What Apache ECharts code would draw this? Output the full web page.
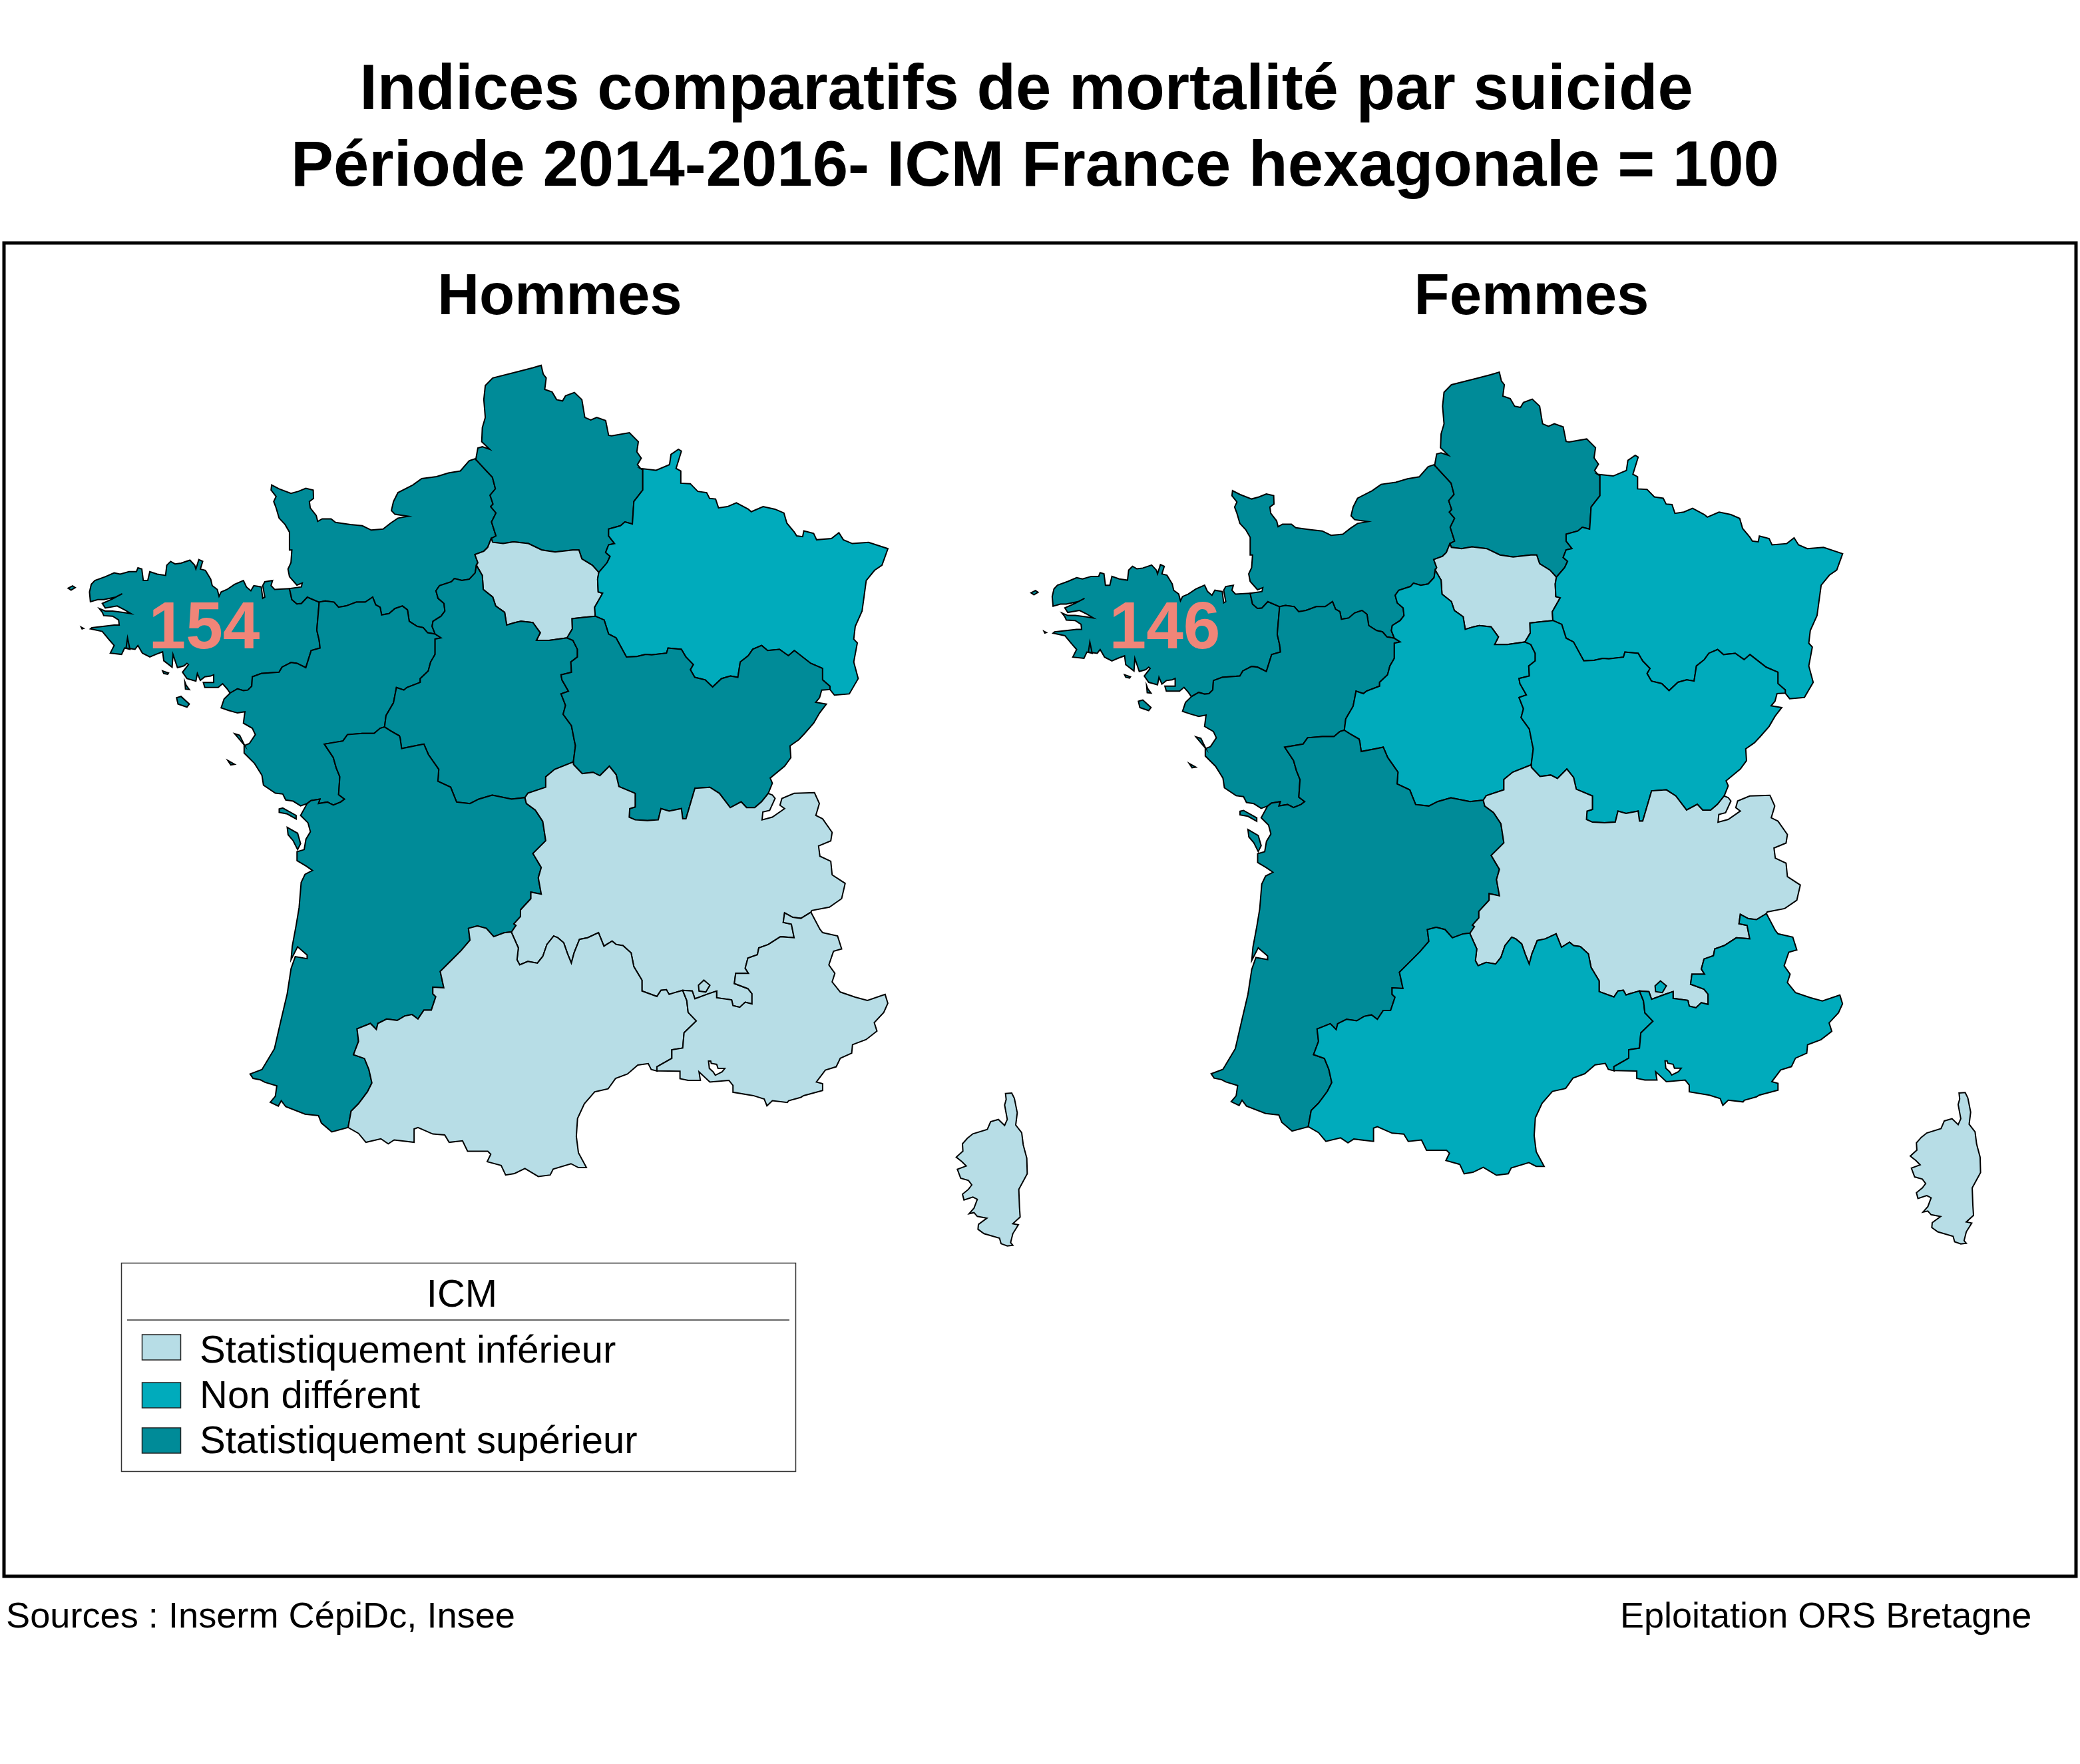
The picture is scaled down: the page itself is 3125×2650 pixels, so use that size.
<!DOCTYPE html>
<html><head><meta charset="utf-8">
<style>html,body{margin:0;padding:0;background:#fff}#c{width:3125px;height:2650px}</style>
<script src="https://cdn.jsdelivr.net/npm/echarts@6/dist/echarts.min.js"></script>
</head><body><div id="c"></div>
<script>
// ---- chart values ----
const titleLines = ["Indices comparatifs de mortalité par suicide", "Période 2014-2016- ICM France hexagonale = 100"];
const panelNames = ["Hommes", "Femmes"];
const bretagneValues = [154, 146];
const legendTitle = "ICM";
const legendLabels = ["Statistiquement inférieur", "Non différent", "Statistiquement supérieur"];
const classColors = ["#b7dde6", "#00abbc", "#008b98"];
const regionNames = ["Bretagne","Normandie","Hauts-de-France","Île-de-France","Grand Est","Pays de la Loire","Centre-Val de Loire","Bourgogne-Franche-Comté","Nouvelle-Aquitaine","Auvergne-Rhône-Alpes","Occitanie","Provence-Alpes-Côte d'Azur","Corse"];
const classesHommes = [2,2,2,0,1,2,2,2,2,0,0,0,0];
const classesFemmes = [2,2,2,0,1,2,1,1,2,0,1,1,0];
const sourceText = "Sources : Inserm CépiDc, Insee";
const creditText = "Eploitation ORS Bretagne";

// ---- base map geometry: traced outlines, each in its own tracing frame ----
const F1 = [80,520,2.24,2.613], F2 = [680,520,2.24,2.613], F3 = [340,1100,2.24,2.24], F4 = [740,1100,2.45,1.96], F5 = [1420,1630,3,3];
const arc = (f, a) => { const o = []; for (let i = 0; i < a.length; i += 2) o.push([f[0] + a[i] / f[2], -(f[1] + a[i + 1] / f[3])]); return o; };
const rev = a => a.slice().reverse();
const ring = (...arcs) => { const r = [].concat(...arcs); r.push(r[0]); return r; };

const bzCoast = arc(F1,[795,952,745,955,733,940,738,920,712,925,705,940,712,985,705,990,700,945,675,940,665,960,650,945,640,920,610,935,585,955,565,965,558,982,552,955,535,940,530,915,512,880,495,875,503,845,490,838,480,875,476,860,460,840,430,852,410,855,395,845,382,860,378,900,350,895,325,885,318,920,303,920,298,875,285,870,280,885,255,885,225,895,205,890,175,905,140,920,128,935,122,965,125,1003,150,995,170,995,210,985,232,972,200,992,165,1010,175,1028,215,1020,240,1035,262,1050,235,1045,200,1040,175,1040,155,1030,165,1045,170,1058,200,1060,220,1075,222,1095,205,1095,130,1105,125,1110,165,1120,190,1155,205,1175,192,1205,230,1210,240,1185,258,1190,250,1145,245,1185,275,1190,285,1175,300,1205,325,1220,345,1210,368,1200,372,1235,400,1260,403,1210,418,1262,440,1255,450,1245,455,1250,435,1280,450,1305,480,1315,485,1285,495,1312,510,1298,530,1295,540,1290,540,1320,505,1320,510,1340,555,1340,570,1325,585,1345,595,1362]);
const bzPdl = arc(F1,[595,1362,620,1345,640,1352,655,1350,668,1335,670,1298,700,1285,760,1280,770,1260,800,1242,820,1245,850,1262,868,1195,898,1185,895,1155,887,1115,895,1005]);
const bzNor = arc(F1,[895,1005,855,985,835,1010,820,1012,803,995,795,952]);
const norCoast = arc(F1,[795,952,835,945,838,930,820,938,795,905,790,875,800,850,803,800,795,800,795,730,780,700,760,675,750,635,742,610,750,590,733,565,735,545,760,560,800,578,825,570,850,558,875,565,876,598,862,610,865,635,885,665,890,688,905,678,935,678,950,692,1000,700,1040,705,1070,722,1110,718,1135,695,1160,675,1195,668,1150,660,1138,645,1145,610,1160,575,1210,545,1240,520,1290,512,1330,498,1370,490,1400,450,1420,442]);
const norHdf = arc(F1,[1420,442,1450,480,1478,515,1488,560,1470,585,1480,620,1472,630,1490,655,1475,690,1490,745,1474,755]);
const norIdf = arc(F2,[130,755,118,790,105,805,75,818,85,850,80,860]);
const norCvl = arc(F1,[1424,860,1420,890,1400,915,1375,920,1350,912,1340,925,1300,940,1288,960,1295,990,1315,1010,1318,1040,1305,1060,1278,1080,1275,1100,1285,1130]);
const norPdl = arc(F1,[1285,1130,1260,1125,1245,1105,1225,1100,1198,1080,1192,1035,1175,1020,1150,1030,1130,1050,1105,1055,1100,1025,1085,1015,1075,985,1050,1005,1020,1005,985,1020,960,1025,945,1005,915,1000,895,1005]);
const hdfCoast = arc(F2,[78,445,85,400,100,395,125,405,98,375,100,320,110,280,105,210,110,155,135,125,220,100,270,85,298,75,305,110,315,125,310,170,335,180,350,210,370,215,380,195,410,182,435,210,445,280,465,290,485,280,515,292,525,350,535,352,595,340,625,375,620,415,635,440,622,465,632,480]);
const hdfGes = arc(F2,[492,888,520,850,530,825,515,810,525,780,545,775,525,745,525,718,565,705,580,690,605,698,610,610,640,565,640,485,632,480]);
const idfHdf = arc(F2,[492,888,470,860,435,835,425,800,405,800,345,808,300,800,255,775,205,768,170,775,135,770,130,755]);
const idfCvl = arc(F2,[80,860,100,900,103,955,135,985,145,1020,175,1045,182,1095,210,1085,230,1080,270,1085,295,1125,282,1155,325,1155,385,1145]);
const idfBfc = arc(F2,[385,1145,403,1110,402,1070,440,1065,480,1060]);
const idfGes = arc(F2,[480,1060,478,1025,505,970,490,965,488,915,492,888]);
const gesOuter = arc(F2,[632,480,685,487,730,465,735,425,760,405,770,412,752,480,768,490,768,538,800,540,825,570,855,575,865,598,885,600,895,635,925,630,955,615,995,640,1005,650,1045,630,1085,640,1115,655,1125,695,1150,730,1158,745,1178,748,1182,725,1215,735,1225,760,1275,755,1300,732,1315,760,1345,775,1400,770,1465,795,1445,860,1420,880,1392,920,1385,980,1378,1040,1355,1100,1350,1150,1362,1165,1350,1240,1365,1305,1335,1365,1285,1370,1270,1348]);
const gesBfc = arc(F2,[480,1060,510,1075,525,1130,550,1145,585,1220,620,1218,650,1210,670,1212,720,1205,725,1185,770,1190,785,1220,810,1250,800,1270,815,1300,850,1310,875,1338,905,1305,935,1295,960,1300,968,1240,995,1215,1010,1190,1040,1175,1060,1195,1100,1190,1130,1215,1150,1195,1205,1245,1245,1265,1245,1310,1270,1335,1270,1348]);
const bfcOuter = [...arc(F2,[1270,1348,1242,1350,1235,1380,1222,1398,1258,1405,1235,1440,1215,1480,1185,1520,1165,1545]), ...arc(F4,[1095,40,1098,75,1075,100,1022,135,1030,150,1015,180])];
const bfcAra = arc(F4,[1015,180,990,205,965,222,935,222,915,205,875,222,835,180,800,162,745,165,712,255,700,255,695,225,650,232,620,225,610,258,570,260,525,258,503,250,505,225,525,220,525,180,465,160,455,125,430,100,395,128,370,118,330,122,298,95]);
const cvlBfc = [...arc(F2,[385,1145,405,1155,420,1190,420,1220,398,1240,400,1280,365,1290,368,1310,390,1355,365,1365,380,1410,372,1445,400,1490,410,1550]), ...arc(F3,[1175,45,1168,100])];
const cvlAra = arc(F3,[1168,100,1105,125,1075,150,1075,185,1015,205,1005,220]);
const cvlNaq = [...arc(F1,[1115,1495,1135,1510,1165,1530]), ...arc(F3,[585,20,590,55,640,45,665,40,680,75,715,125,712,165,755,185,775,235,820,240,850,225,895,212,960,225,1005,220])];
const pdlCvl = arc(F1,[1285,1130,1305,1145,1285,1150,1285,1210,1270,1240,1262,1275,1235,1305,1235,1320,1190,1340,1180,1350,1155,1340,1145,1400,1120,1450,1115,1495]);
const pdlCoast = [...arc(F1,[595,1362,575,1385,565,1420,590,1430,620,1440,645,1435,640,1480,670,1500,680,1525,660,1560]), ...arc(F3,[60,45,60,70,95,105,120,145,125,178,165,205,190,208,200,228,225,232,250,248,272,240])];
const pdlNaq = [...arc(F3,[272,240,285,230,315,225,310,240,340,235,360,245,385,235,398,225,378,210,382,150,370,120,360,85,330,40]), ...arc(F1,[975,1550,990,1525,1040,1520,1080,1520,1100,1500,1115,1495])];
const naqCoast = arc(F3,[272,240,250,280,275,305,283,335,268,360,262,395,238,402,238,432,268,450,290,465,265,478,252,505,245,590,235,650,222,720,218,765,240,722,272,750,272,762,232,755,218,795,205,880,185,965,162,1065,120,1135,80,1150,90,1165,115,1170,130,1178,170,1190,165,1225,148,1245,175,1258,185,1240,200,1260,265,1285,310,1290,320,1315,355,1345,410,1330]);
const naqOcc = arc(F3,[960,672,935,675,900,688,875,660,845,652,815,660,820,700,790,735,755,770,720,805,732,860,695,858,695,880,705,890,690,935,665,935,645,965,625,950,600,955,575,970,540,965,510,980,505,1000,485,980,440,998,445,1040,428,1085,465,1098,480,1135,490,1180,475,1210,445,1250,420,1275,410,1330]);
const naqAra = arc(F3,[960,672,975,650,968,645,990,620,990,598,1025,560,1025,538,1060,545,1050,490,1060,455,1032,408,1075,365,1065,300,1040,262,1010,240,1005,220]);
const araOuter = arc(F4,[1015,180,1030,185,1040,195,1020,230,995,235,992,258,1030,250,1075,225,1058,215,1065,195,1110,180,1185,178,1203,210,1190,245,1215,255,1250,295,1245,320,1200,335,1205,365,1245,380,1250,420,1298,445,1285,490,1240,515,1175,525,1172,530]);
const araPac = arc(F4,[1172,530,1135,548,1105,545,1075,532,1070,560,1100,565,1110,605,1060,602,1015,625,980,635,975,655,940,665,930,695,942,710,895,710,890,740,940,755,955,770,955,800,930,795,910,810,885,805,880,788,825,782,825,762,795,770,745,785,735,762,700,760]);
const araOcc = arc(F4,[700,760,665,768,650,772,640,758,620,760,605,778,550,762,550,730,520,690,510,650,480,628,455,625,440,615,410,630,390,590,350,605,320,610,300,650,290,680,275,650,262,620,240,605,225,600,200,625,185,660,165,680,130,675,100,685,90,670,95,635,70,590]);
const occCoast = arc(F3,[410,1330,445,1350,470,1380,520,1368,545,1385,565,1372,632,1380,632,1335,645,1330,695,1352,735,1355,750,1380,795,1375,812,1410,880,1410,890,1420,878,1445,925,1458,940,1490,970,1485,1005,1468,1050,1495,1090,1490,1100,1470,1160,1452,1185,1465,1212,1465,1185,1415,1178,1360,1182,1300,1205,1250,1240,1210,1285,1200,1310,1165,1350,1150,1385,1120,1420,1115,1430,1135,1450,1140]);
const occPac = arc(F4,[605,997,605,985,660,960,660,935,700,930,705,885,750,850,720,825,715,790,700,760]);
const pacCoast = arc(F4,[605,997,690,998,690,1020,720,1025,765,1025,760,1000,800,1030,870,1025,885,1040,885,1060,960,1070,1000,1080,1010,1100,1030,1085,1085,1090,1090,1085,1135,1075,1145,1070,1215,1055,1215,1035,1192,1030,1225,995,1265,985,1280,960,1322,945,1325,920,1375,905,1415,880,1405,855,1440,825,1455,798,1445,772,1380,790,1335,780,1280,765,1250,735,1260,710,1238,685,1255,645,1285,638,1270,600,1215,590,1205,580,1172,530]);
const berreLagoon = arc(F4,[795,968,803,968,805,975,825,978,830,990,855,990,845,1000,820,1010,812,1000,798,990]);
const valreasEnclave = arc(F4,[758,745,778,730,800,745,785,765,760,762]);
const corsicaOutline = arc(F5,[272,38,300,36,312,60,325,125,318,180,345,215,352,270,368,330,370,400,332,470,335,550,338,595,305,625,330,630,305,670,295,710,305,722,280,725,252,715,245,690,175,670,148,650,150,628,188,600,145,592,130,575,108,580,130,555,145,515,125,505,85,518,78,492,105,470,120,450,105,430,70,420,55,380,95,365,75,345,50,325,80,298,78,265,100,240,125,220,190,200,205,165,240,155,268,182,280,155,268,90,275,65]);
const ouessant = arc(F1,[50,950,65,941,74,948,60,958]);
const sein = arc(F1,[94,1103,102,1108,97,1110]);
const groix = arc(F1,[368,1275,388,1283,385,1288,372,1285]);
const belleIle = arc(F1,[415,1380,430,1375,458,1405,450,1417,420,1405]);
const quiberon = arc(F1,[443,1318,447,1330,458,1348,445,1346]);
const noirmoutier = arc(F3,[28,5,45,10,62,45,45,25]);
const yeu = arc(F3,[5,95,28,108,15,110]);
const re = arc(F3,[178,258,190,255,235,280,235,292,205,275,178,270]);
const oleron = arc(F3,[205,320,240,340,250,375,240,395,225,365,208,345]);

const regionPolygons = [
  [[ring(bzCoast,bzPdl,bzNor)],[ring(ouessant)],[ring(sein)],[ring(groix)],[ring(belleIle)],[ring(quiberon)]],
  [[ring(norCoast,norHdf,norIdf,norCvl,norPdl,bzNor)]],
  [[ring(hdfCoast,rev(hdfGes),idfHdf,rev(norHdf))]],
  [[ring(norIdf,idfCvl,idfBfc,idfGes,idfHdf)]],
  [[ring(gesOuter,rev(gesBfc),idfGes,hdfGes)]],
  [[ring(pdlCoast,pdlNaq,rev(pdlCvl),norPdl,rev(bzPdl))],[ring(noirmoutier)],[ring(yeu)]],
  [[ring(idfCvl,cvlBfc,cvlAra,rev(cvlNaq),rev(pdlCvl),rev(norCvl))]],
  [[ring(gesBfc,bfcOuter,bfcAra,rev(cvlBfc),idfBfc)]],
  [[ring(naqCoast,rev(naqOcc),naqAra,rev(cvlNaq),rev(pdlNaq))],[ring(re)],[ring(oleron)]],
  [[ring(araOuter,araPac,araOcc,naqAra,rev(cvlAra),rev(bfcAra))]],
  [[ring(naqOcc,occCoast,occPac,araOcc)]],
  [[ring(pacCoast,araPac,rev(occPac)),ring(berreLagoon)],[ring(valreasEnclave)]],
  [[ring(corsicaOutline)]]
];
const features = regionNames.map((name,i)=>({type:'Feature',properties:{name},geometry:{type:'MultiPolygon',coordinates:regionPolygons[i]}}));
echarts.registerMap('franceHommes',{type:'FeatureCollection',features});
echarts.registerMap('franceFemmes',{type:'FeatureCollection',features});

let minX=1e9,maxX=-1e9,minY=1e9,maxY=-1e9;
regionPolygons.flat(3).forEach(p=>{minX=Math.min(minX,p[0]);maxX=Math.max(maxX,p[0]);minY=Math.min(minY,-p[1]);maxY=Math.max(maxY,-p[1]);});
const mapW=maxX-minX, mapH=maxY-minY;
const borderStyle={borderColor:'#000',borderWidth:2,areaColor:'#fff'};
const mapSeries=(map,classes,left,top,scale)=>({type:'map',map,aspectScale:1,roam:false,silent:true,left,top,width:mapW*scale,height:mapH*scale,
  label:{show:false},emphasis:{disabled:true},select:{disabled:true},itemStyle:borderStyle,
  data:regionNames.map((name,i)=>({name,value:classes[i],itemStyle:{areaColor:classColors[classes[i]]}}))});

const txt=(text,x,base,fs,bold,align,fill)=>({type:'text',x,y:base-0.27*fs,z:10,style:{text,x:0,y:0,fontFamily:'"Liberation Sans",Arial,sans-serif',fontSize:fs,fontWeight:bold?'bold':'normal',fill:fill||'#000',align:align||'left',verticalAlign:'middle'}});
const rect=(x,y,width,height,fill,stroke,lineWidth)=>({type:'rect',z:5,shape:{x,y,width,height},style:{fill,stroke,lineWidth}});

const chart=echarts.init(document.getElementById('c'),null,{renderer:'canvas',width:3125,height:2650});
chart.setOption({
  backgroundColor:'#fff',animation:false,
  series:[mapSeries('franceHommes',classesHommes,minX,minY,1),mapSeries('franceFemmes',classesFemmes,1549,559,0.99)],
  graphic:[
    rect(6,365,3113,2003,'transparent','#000',5),
    txt(titleLines[0],1542,163,95.9,true,'center'),
    txt(titleLines[1],1555,278,95.9,true,'center'),
    txt(panelNames[0],841,472,87,true,'center'),
    txt(panelNames[1],2301,472,87,true,'center'),
    txt(String(bretagneValues[0]),307,973,100,true,'center','#f08578'),
    txt(String(bretagneValues[1]),1750,973,100,true,'center','#f08578'),
    rect(182.5,1897.5,1013,313,'#fff','#333',1.5),
    {type:'line',z:6,shape:{x1:191,y1:1983,x2:1186,y2:1983},style:{stroke:'#333',lineWidth:1.5}},
    txt(legendTitle,694,1963,58,false,'center'),
    ...legendLabels.flatMap((t,i)=>{const ys=[2005,2077,2145],bs=[2047,2115,2183];return [rect(213.5,ys[i],58,38,classColors[i],'#222',1.5),txt(t,300,bs[i],58,false,'left')];}),
    txt(sourceText,9,2445,54.2,false,'left'),
    txt(creditText,2434,2445,54,false,'left')
  ]
});
</script></body></html>
